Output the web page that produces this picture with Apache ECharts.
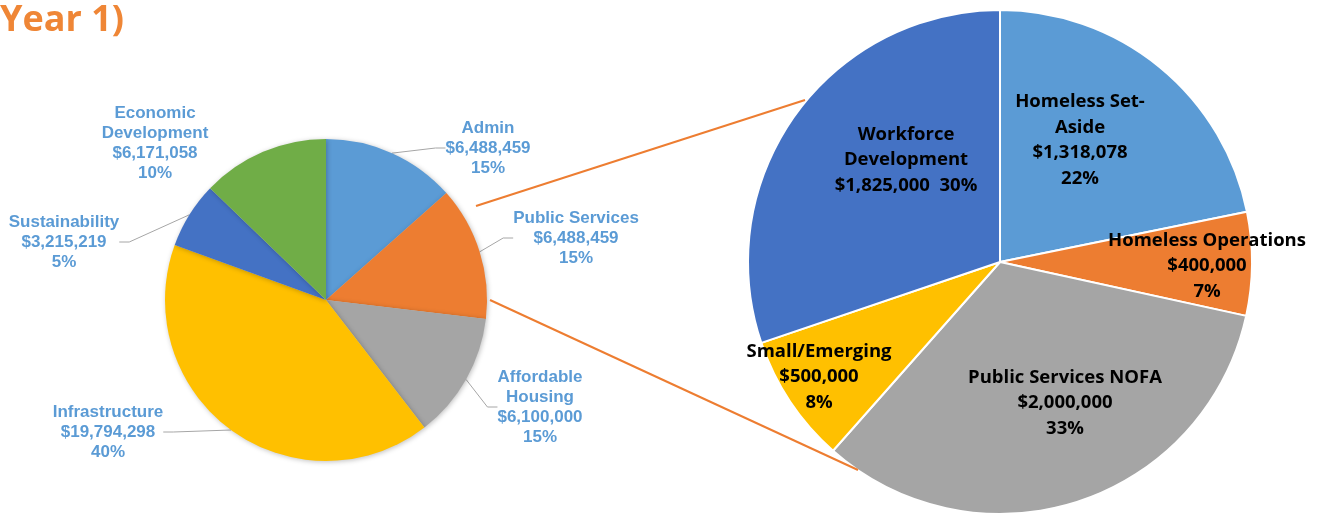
<!DOCTYPE html>
<html><head><meta charset="utf-8">
<script src="https://cdn.jsdelivr.net/npm/echarts@6/dist/echarts.min.js"></script>
<style>html,body{margin:0;padding:0;background:#fff}#c{width:1319px;height:515px}</style>
</head><body><div id="c"></div>
<script>
// ---- data ----
const leftCategories = ['Admin', 'Public Services', 'Affordable\nHousing', 'Infrastructure', 'Sustainability', 'Economic\nDevelopment'];
const leftValues = [6488459, 6488459, 6100000, 19794298, 3215219, 6171058];
const leftPctLabels = ['15%', '15%', '15%', '40%', '5%', '10%'];

const rightCategories = ['Homeless Set-\nAside', 'Homeless Operations', 'Public Services NOFA', 'Small/Emerging', 'Workforce\nDevelopment'];
const rightValues = [1318078, 400000, 2000000, 500000, 1825000];
const rightPctLabels = ['22%', '7%', '33%', '8%', '30%'];

// ---- styles / layout ----
const leftColors = ['#5B9BD5', '#ED7D31', '#A5A5A5', '#FFC000', '#4472C4', '#70AD47'];
const rightColors = ['#5B9BD5', '#ED7D31', '#A5A5A5', '#FFC000', '#4472C4'];
const leftLabelPos = [[488, 148], [576, 238], [540, 407], [108, 432], [64, 242], [155, 143]];
const rightLabelPos = [[1080, 140], [1207, 266], [1065, 403], [819, 377], [906, 160]];
const rightPctSep = ['\n', '\n', '\n', '\n', '  '];
const leftHideLine = [false, false, false, false, false, true];

const fmt = v => '$' + v.toLocaleString('en-US');

const chart = echarts.init(document.getElementById('c'), null, {renderer: 'canvas'});

const leftData = leftValues.map((v, i) => ({
  name: leftCategories[i], value: v,
  itemStyle: {color: leftColors[i]},
  labelLine: {show: !leftHideLine[i]}
}));
const rightData = rightValues.map((v, i) => ({
  name: rightCategories[i], value: v,
  itemStyle: {color: rightColors[i]}
}));

chart.setOption({
  animation: false,
  graphic: [
    {type: 'text', left: 0, top: 3, style: {text: 'Year 1)', fill: '#EF8636', font: 'bold 36px "Open Sans"'}},
    {type: 'line', shape: {x1: 476, y1: 206, x2: 805, y2: 100}, style: {stroke: '#ED7D31', lineWidth: 2}, z: 10},
    {type: 'line', shape: {x1: 490, y1: 300, x2: 858, y2: 470}, style: {stroke: '#ED7D31', lineWidth: 2}, z: 10}
  ],
  series: [
    {
      type: 'pie',
      center: [326, 300],
      radius: [0, 161],
      startAngle: 90,
      clockwise: true,
      data: leftData,
      itemStyle: {shadowBlur: 5, shadowColor: 'rgba(0,0,0,0.25)', shadowOffsetX: 1, shadowOffsetY: 1},
      label: {
        show: true,
        position: 'outside',
        formatter: p => p.name + '\n' + fmt(p.value) + '\n' + leftPctLabels[p.dataIndex],
        color: '#5B9BD5',
        fontFamily: 'Liberation Sans',
        fontWeight: 'bold',
        fontSize: 17,
        lineHeight: 20,
        align: 'center'
      },
      labelLine: {show: true, length: 10, length2: 10, smooth: false, lineStyle: {color: '#A6A6A6', width: 1}},
      labelLayout: p => ({x: leftLabelPos[p.dataIndex][0], y: leftLabelPos[p.dataIndex][1], align: 'center', verticalAlign: 'middle'}),
      emphasis: {disabled: true}
    },
    {
      type: 'pie',
      center: [1000, 262],
      radius: [0, 252],
      startAngle: 90,
      clockwise: true,
      data: rightData,
      itemStyle: {borderColor: '#fff', borderWidth: 2},
      label: {
        show: true,
        position: 'inside',
        formatter: p => p.name + '\n' + fmt(p.value) + rightPctSep[p.dataIndex] + rightPctLabels[p.dataIndex],
        color: '#000',
        fontFamily: 'Open Sans',
        fontWeight: 'bold',
        fontSize: 18.5,
        lineHeight: 25.5,
        align: 'center'
      },
      labelLine: {show: false},
      labelLayout: p => ({x: rightLabelPos[p.dataIndex][0], y: rightLabelPos[p.dataIndex][1], align: 'center', verticalAlign: 'middle'}),
      emphasis: {disabled: true}
    }
  ]
});
</script>
</body></html>
